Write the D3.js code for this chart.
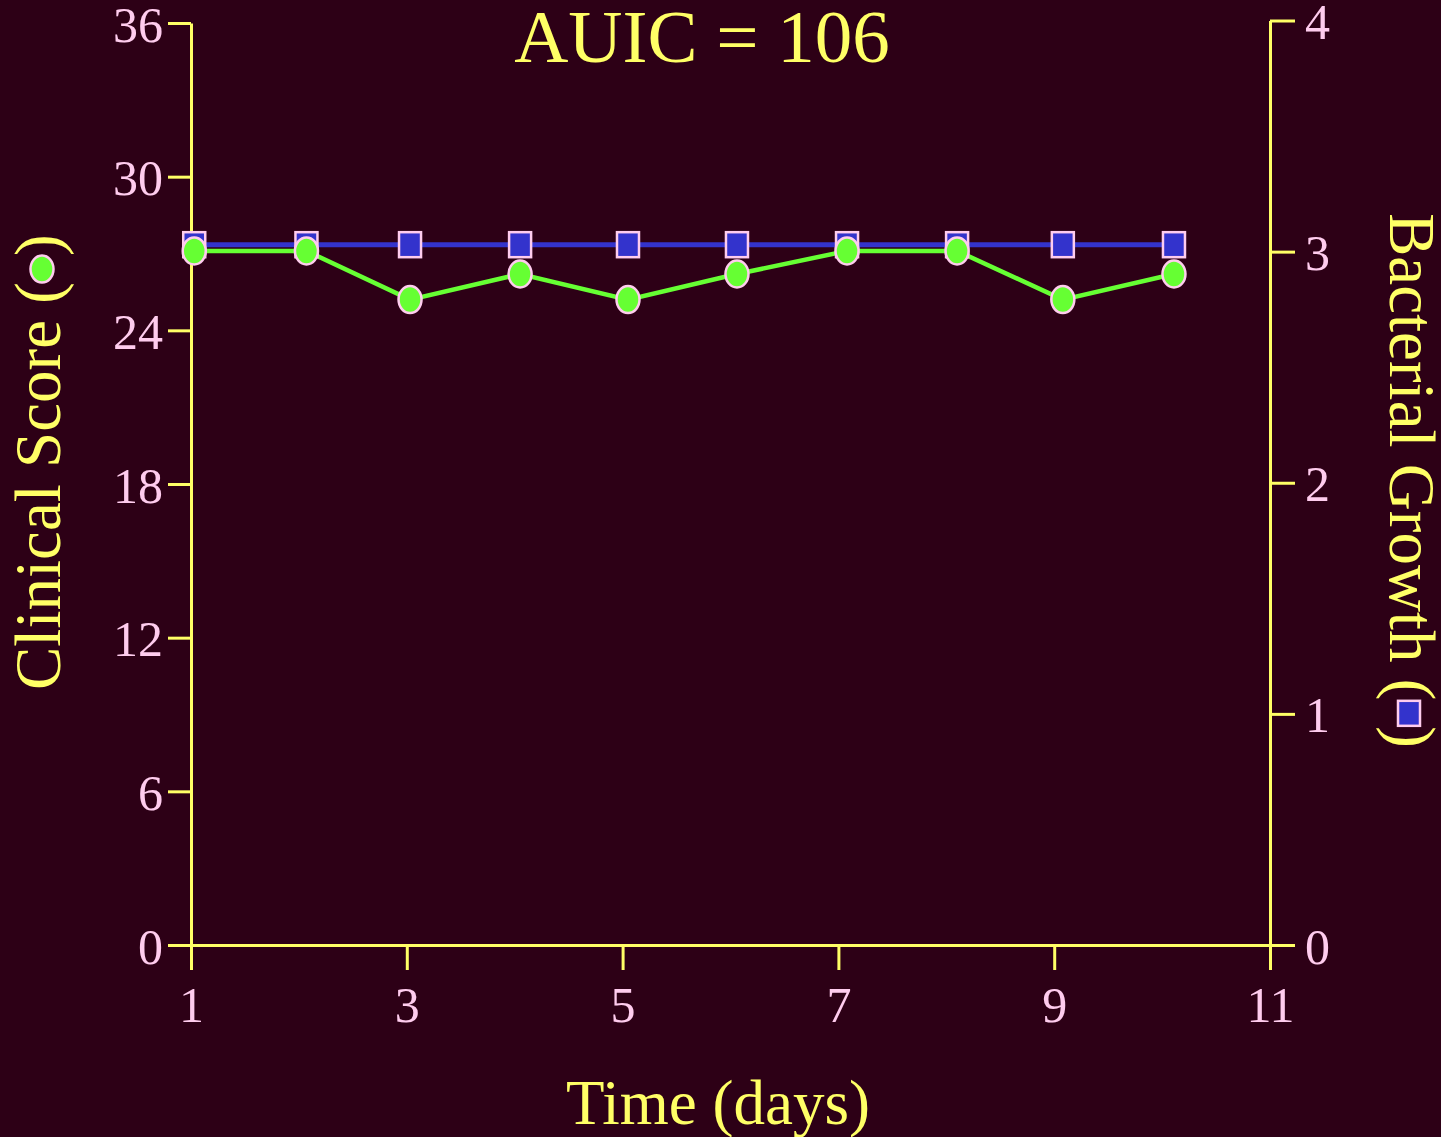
<!DOCTYPE html>
<html>
<head>
<meta charset="utf-8">
<script src="https://cdn.jsdelivr.net/npm/d3@7"></script>
<style>
  html, body { margin: 0; padding: 0; background: #2d0016; }
  svg { display: block; }
</style>
</head>
<body>
<script>
// ---- data ----
const days = [1.03, 2.07, 3.03, 4.05, 5.05, 6.06, 7.08, 8.1, 9.08, 10.11];
const clinicalScore = [27.1, 27.1, 25.2, 26.2, 25.2, 26.2, 27.1, 27.1, 25.2, 26.2];
const bacterialGrowth = [3.03, 3.03, 3.03, 3.03, 3.03, 3.03, 3.03, 3.03, 3.03, 3.03];
const xTicks = [1, 3, 5, 7, 9, 11];
const leftTicks = [0, 6, 12, 18, 24, 30, 36];
const rightTicks = [0, 1, 2, 3, 4];
const titleText = "AUIC = 106";
const xTitle = "Time (days)";
const leftTitle = "Clinical Score (";
const rightTitle = "Bacterial Growth (";

// ---- style ----
const W = 1441, H = 1137;
const BG = "#2d0016", AXIS = "#ffff66", TICKTXT = "#ffccee", GREEN = "#66ff33", BLUE = "#3333cc", EDGE = "#ffccee";
const FONT = "'Liberation Serif', 'Times New Roman', serif";

const svg = d3.select("body").append("svg").attr("width", W).attr("height", H);
svg.append("rect").attr("width", W).attr("height", H).attr("fill", BG);

const x = d3.scaleLinear().domain([1, 11]).range([191, 1270]);
const yL = d3.scaleLinear().domain([0, 36]).range([945, 23]);
const yR = d3.scaleLinear().domain([0, 4]).range([945, 20.5]);

function styleAxis(g) {
  g.selectAll("path.domain").attr("stroke", AXIS).attr("stroke-width", 3);
  g.selectAll(".tick line").attr("stroke", AXIS).attr("stroke-width", 3);
  g.selectAll(".tick text").attr("fill", TICKTXT).attr("font-family", FONT).attr("font-size", 50);
}

// x axis
const gx = svg.append("g").attr("transform", "translate(0,945)")
  .call(d3.axisBottom(x).tickValues(xTicks).tickSize(25).tickSizeOuter(0).tickPadding(8).tickFormat(d3.format("d")));
styleAxis(gx);
gx.selectAll(".tick text").attr("dy", "0.88em");

// left axis
const gl = svg.append("g").attr("transform", "translate(191,0)")
  .call(d3.axisLeft(yL).tickValues(leftTicks).tickSize(23).tickSizeOuter(0).tickPadding(5).tickFormat(d3.format("d")));
styleAxis(gl);
gl.selectAll(".tick text").attr("dy", "0.36em");

// right axis
const gr = svg.append("g").attr("transform", "translate(1270,0)")
  .call(d3.axisRight(yR).tickValues(rightTicks).tickSize(25).tickSizeOuter(0).tickPadding(10).tickFormat(d3.format("d")));
styleAxis(gr);
gr.selectAll(".tick text").attr("dy", "0.36em");

// lines
const greenPts = days.map((d, i) => [x(d), yL(clinicalScore[i])]);
const bluePts = days.map((d, i) => [x(d), yR(bacterialGrowth[i])]);
const line = d3.line();
svg.append("path").attr("d", line(greenPts)).attr("fill", "none").attr("stroke", GREEN).attr("stroke-width", 4.5);
svg.append("path").attr("d", line(bluePts)).attr("fill", "none").attr("stroke", BLUE).attr("stroke-width", 5);

// markers
const SQW = 22, SQH = 25, RX = 11.5, RY = 13.5;
svg.selectAll("rect.sq").data(bluePts).enter().append("rect").attr("class", "sq")
  .attr("x", d => d[0] - SQW / 2).attr("y", d => d[1] - SQH / 2)
  .attr("width", SQW).attr("height", SQH)
  .attr("fill", BLUE).attr("stroke", EDGE).attr("stroke-width", 2.5);
svg.selectAll("ellipse.ci").data(greenPts).enter().append("ellipse").attr("class", "ci")
  .attr("cx", d => d[0]).attr("cy", d => d[1]).attr("rx", RX).attr("ry", RY)
  .attr("fill", GREEN).attr("stroke", EDGE).attr("stroke-width", 2.5);

// title
svg.append("text").attr("x", 702).attr("y", 62).attr("text-anchor", "middle")
  .attr("fill", AXIS).attr("font-family", FONT).attr("font-size", 75).text(titleText);

// x title
svg.append("text").attr("x", 718).attr("y", 1124).attr("text-anchor", "middle")
  .attr("fill", AXIS).attr("font-family", FONT).attr("font-size", 63).text(xTitle);

// left title (rotated -90), start at bottom
const GAP = 26, TFS = 65;
const lt = svg.append("text").attr("transform", "translate(60,690) rotate(-90)")
  .attr("fill", AXIS).attr("font-family", FONT).attr("font-size", TFS);
const lt1 = lt.append("tspan").text(leftTitle);
lt.append("tspan").attr("dx", GAP).text(")");
const L1 = lt1.node().getComputedTextLength();
svg.append("ellipse").attr("cx", 42).attr("cy", 690 - L1 - GAP / 2)
  .attr("rx", RX).attr("ry", RY).attr("fill", GREEN).attr("stroke", EDGE).attr("stroke-width", 2.5);

// right title (rotated +90), start at top
const rt = svg.append("text").attr("transform", "translate(1390,213) rotate(90)")
  .attr("fill", AXIS).attr("font-family", FONT).attr("font-size", TFS);
const rt1 = rt.append("tspan").text(rightTitle);
rt.append("tspan").attr("dx", GAP).text(")");
const R1 = rt1.node().getComputedTextLength();
svg.append("rect").attr("x", 1409 - SQW / 2).attr("y", 213 + R1 + GAP / 2 - SQH / 2)
  .attr("width", SQW).attr("height", SQH)
  .attr("fill", BLUE).attr("stroke", EDGE).attr("stroke-width", 2.5);
</script>
</body>
</html>
